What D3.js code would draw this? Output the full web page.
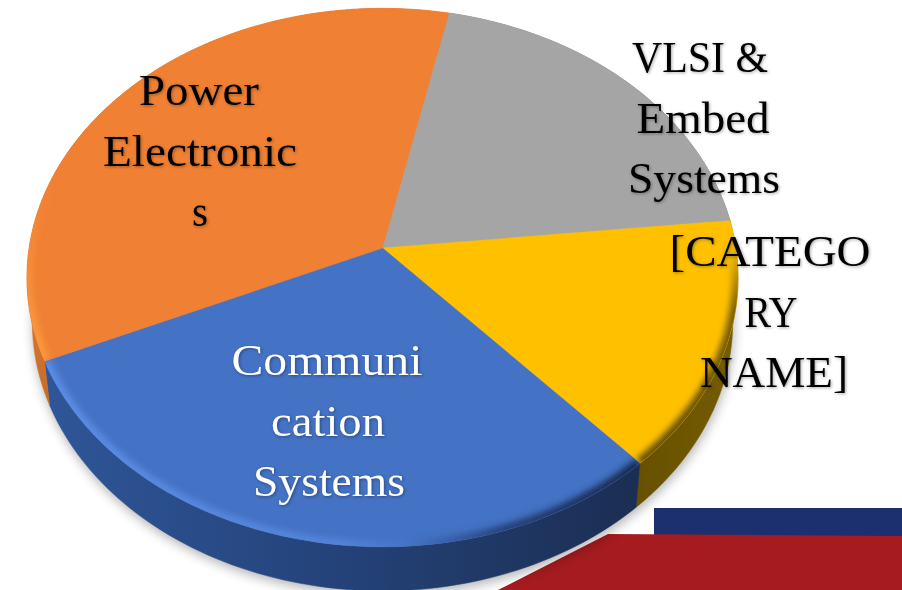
<!DOCTYPE html>
<html><head><meta charset="utf-8">
<script src="https://cdn.jsdelivr.net/npm/d3@7"></script>
<style>html,body{margin:0;padding:0;background:#fff;overflow:hidden}svg{display:block}
text{font-family:"Liberation Serif",serif;font-size:45px;text-anchor:middle}</style></head>
<body><svg id="c" width="902" height="590"></svg>
<script>
// Data
const categories = ["VLSI & Embed Systems", "[CATEGORY NAME]", "Communication Systems", "Power Electronics"];
const shares = [20, 15, 30, 35];
const colors = ["#a5a5a5", "#ffc000", "#4472c4", "#f08033"];
const labelLines = [["VLSI &", "Embed", "Systems"], ["[CATEGO", "RY", "NAME]"], ["Communi", "cation", "Systems"], ["Power", "Electronic", "s"]];
const labelColors = ["#000", "#000", "#fff", "#000"];

// Layout of the labels (centre x and width of each line, first baseline)
const labelX = [[700, 703, 704], [770, 771, 774], [327, 328, 329], [199, 200, 200]];
const labelW = [[136, 133, 152], [201, 53, 148], [191, 114, 152], [120, 194, 16]];
const labelY = [72, 266, 375, 105];
const lineGap = 60.7;

(function () {
const svg = d3.select("#c");
const defs = svg.append("defs");
const blur = (id, s) => defs.append("filter").attr("id", id)
  .attr("filterUnits", "userSpaceOnUse").attr("x", -50).attr("y", -50).attr("width", 1000).attr("height", 700)
  .append("feGaussianBlur").attr("stdDeviation", s);
blur("b3", 3); blur("b7", 6);
const grad = (id, dir, a, b, stops) => {
  const g = defs.append("linearGradient").attr("id", id).attr("gradientUnits", "userSpaceOnUse");
  if (dir === "x") g.attr("x1", a).attr("x2", b).attr("y1", 0).attr("y2", 0);
  else g.attr("y1", a).attr("y2", b).attr("x1", 0).attr("x2", 0);
  stops.forEach(([o, c]) => g.append("stop").attr("offset", o).attr("stop-color", c));
};
grad("wallBlue", "x", 45, 640, [[0, "#2f5698"], [.45, "#25447c"], [1, "#1b2e52"]]);
grad("wallYellow", "x", 634, 740, [[0, "#665000"], [1, "#765c00"]]);
grad("wallOrange", "y", 270, 400, [[0, "#e07a30"], [1, "#c86c26"]]);
grad("wallGrey", "x", 0, 900, [[0, "#777"], [1, "#777"]]);
grad("rimBlue", "x", 45, 637, [[0, "#5b8de4"], [.5, "#5283d8"], [.62, "#4472c4"], [.78, "#24407a"], [1, "#182a4e"]]);
grad("rimYellow", "y", 240, 440, [[0, "#ffc000"], [.35, "#7a5e00"], [1, "#665000"]]);
grad("rimOrange", "y", 180, 340, [[0, "#f08033"], [1, "#f9983f"]]);
grad("rimGrey", "y", 0, 300, [[0, "#a5a5a5"], [1, "#a5a5a5"]]);
const wallFill = ["url(#wallGrey)", "url(#wallYellow)", "url(#wallBlue)", "url(#wallOrange)"];
const rimStroke = ["url(#rimGrey)", "url(#rimYellow)", "url(#rimBlue)", "url(#rimOrange)"];

// Perspective projection of the unit disc
const cx = 382.5, cy = 248, A = 266, B = 353.4, k = -0.11;
const depth = 44, shrink = 0.985;
const upper = (x, y) => [cx + B * x / (1 + k * y), cy + A * y / (1 + k * y)];
const lower = (x, y) => { const p = upper(x * shrink, y); return [p[0], p[1] + depth]; };
const onCircle = (a) => [Math.sin(a), -Math.cos(a)];
const line = d3.line();
const arcPts = (d, proj) => d3.range(0, 81).map(i => {
  const a = d.startAngle + (d.endAngle - d.startAngle) * i / 80;
  return proj(...onCircle(a));
});

const pie = d3.pie().sort(null).startAngle(12 * Math.PI / 180).endAngle((12 + 360) * Math.PI / 180);
const arcs = pie(shares);
const ring = (proj) => line(d3.range(0, 181).map(i => proj(...onCircle(i * 2 * Math.PI / 180)))) + "Z";

// Backdrop bars
svg.append("rect").attr("x", 654).attr("y", 508).attr("width", 248).attr("height", 29).attr("fill", "#1c2f6e");
svg.append("path").attr("d", "M498,590L608,534L902,536L902,590Z").attr("fill", "#a51b1f");

// Soft shadow
svg.append("path").attr("d", ring(lower)).attr("transform", "translate(1,4)")
  .attr("fill", "#000").attr("opacity", .3).attr("filter", "url(#b7)");

// Walls
svg.append("g").selectAll("path").data(arcs).join("path")
  .attr("d", d => line(arcPts(d, upper).concat(arcPts(d, lower).reverse())) + "Z")
  .attr("fill", (d, i) => wallFill[i]).attr("stroke", (d, i) => wallFill[i]).attr("stroke-width", .5);

// Top faces
const facePath = d => line([[cx, cy]].concat(arcPts(d, upper))) + "Z";
arcs.forEach((d, i) => defs.append("clipPath").attr("id", "f" + i).append("path").attr("d", facePath(d)));
svg.append("g").selectAll("path").data(arcs).join("path")
  .attr("d", facePath).attr("fill", (d, i) => colors[i]).attr("stroke", (d, i) => colors[i]).attr("stroke-width", .4);

// Bevel along the rim
svg.append("g").selectAll("g").data(arcs).join("g")
  .attr("clip-path", (d, i) => `url(#f${i})`)
  .append("path").attr("d", d => line(arcPts(d, upper))).attr("fill", "none")
  .attr("stroke", (d, i) => rimStroke[i]).attr("stroke-width", 12).attr("filter", "url(#b3)");

// Labels
const lg = svg.append("g").style("filter", "drop-shadow(1.5px 1.5px 1.5px rgba(0,0,0,.35))");
labelLines.forEach((lines, i) => lines.forEach((t, j) => {
  lg.append("text").attr("x", labelX[i][j]).attr("y", labelY[i] + j * lineGap)
    .attr("textLength", labelW[i][j]).attr("lengthAdjust", "spacingAndGlyphs")
    .attr("fill", labelColors[i]).text(t);
}));
})();
</script></body></html>
